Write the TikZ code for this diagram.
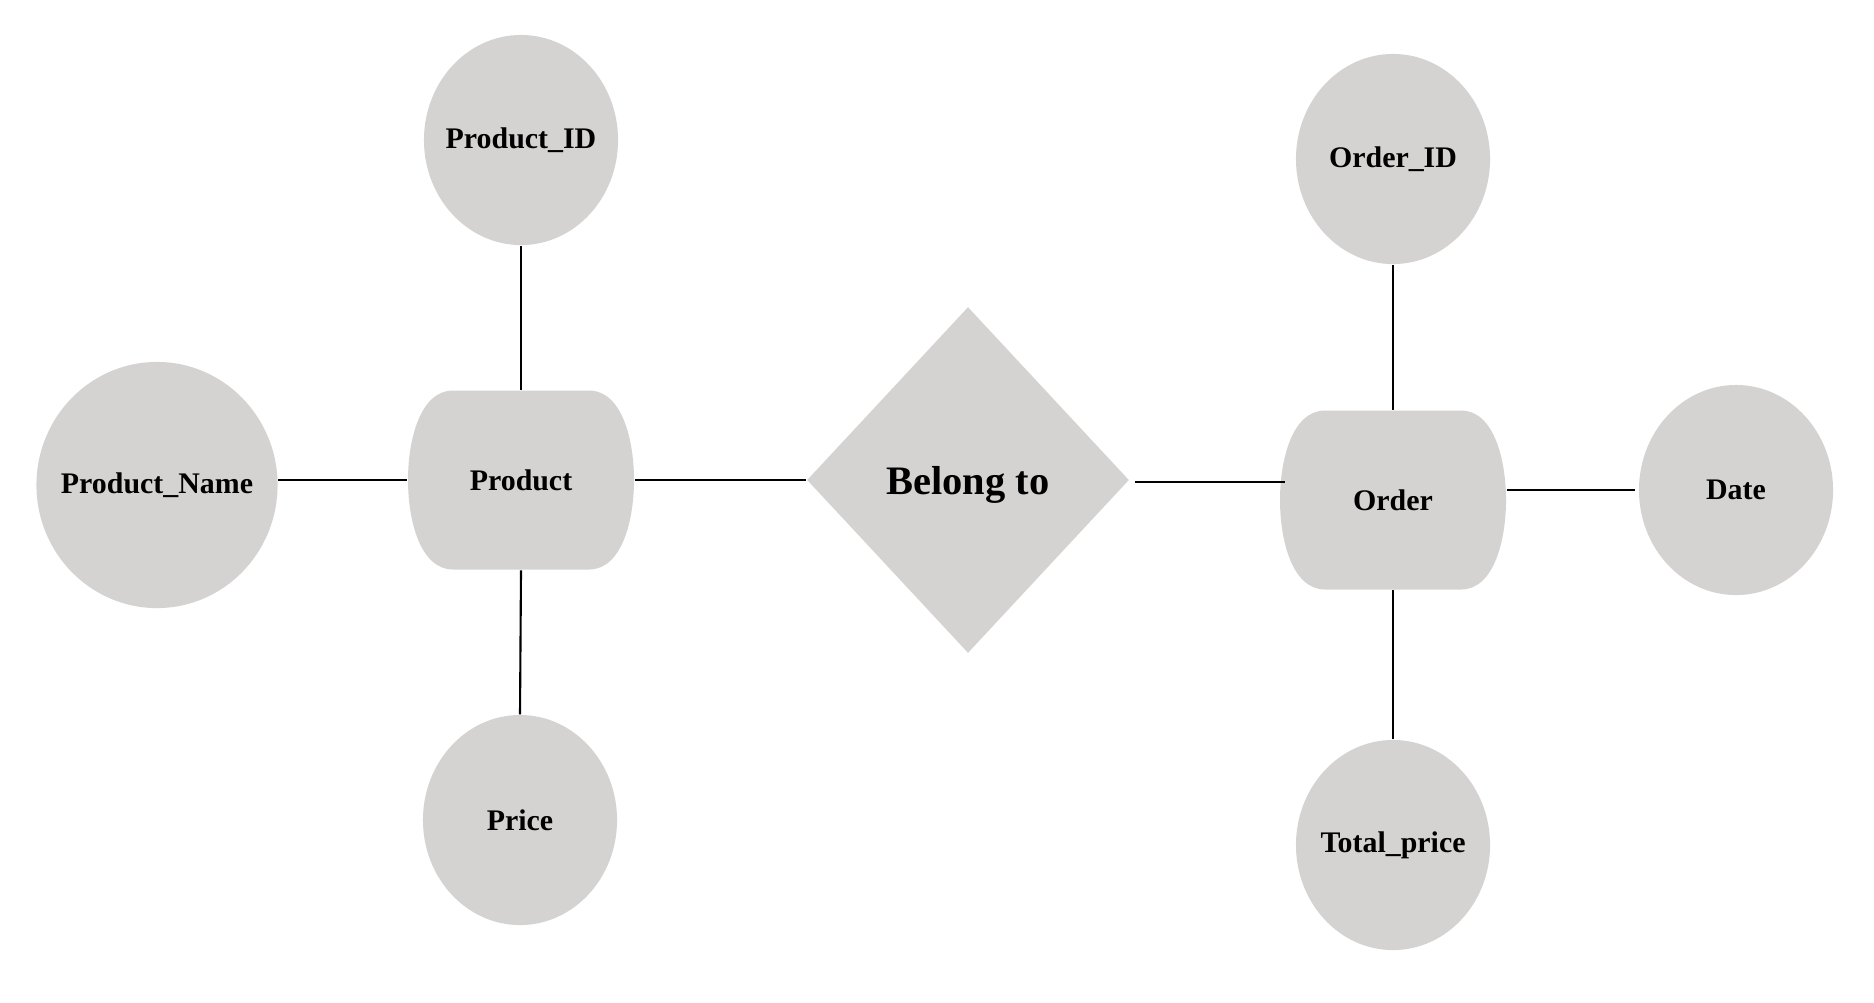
\documentclass[tikz,border=0pt]{standalone}
\usepackage{fontspec}
\setmainfont{Liberation Serif}
\usepackage{tikz}
\usetikzlibrary{positioning,shapes.geometric}
\definecolor{erfill}{RGB}{213,210,210}

\tikzset{
    pics/entbody/.style={
        code={
            \fill[erfill]
                (-68,-89.5) -- (68,-89.5)
                .. controls (101,-89.5) and (113,-40) .. (113,0)
                .. controls (113,40) and (101,89.5) .. (68,89.5)
                -- (-68,89.5)
                .. controls (-101,89.5) and (-113,40) .. (-113,0)
                .. controls (-113,-40) and (-101,-89.5) .. (-68,-89.5) -- cycle;
        }
    }
}

\begin{document}
\begin{tikzpicture}[
    x=0.01cm, y=-0.01cm,
    every node/.style={font=\fontsize{8.5}{10}\selectfont\bfseries},
    attr/.style={
        ellipse,
        fill=erfill,
        inner xsep=-1cm,
        inner ysep=0pt,
        minimum width=1.94cm,
        minimum height=2.1cm
    },
    entity/.style={
        rectangle,
        inner sep=0pt,
        minimum width=2.26cm,
        minimum height=1.79cm
    },
    relation/.style={
        diamond,
        fill=erfill,
        inner sep=0pt,
        text depth=0pt,
        minimum width=3.22cm,
        minimum height=3.46cm,
        font=\fontsize{11.5}{13}\selectfont\bfseries
    },
    link/.style={line width=0.6pt}
]
\useasboundingbox (0,0) rectangle (1874,1002);

% product side
\pic at (521,480) {entbody};
\node[entity] (prod) at (521,480) {Product};
\node[attr] (pid) at (521,140) {Product\_ID};
\node[attr, minimum width=2.41cm, minimum height=2.46cm] (pname) at (157,485) {Product\_Name};
\node[attr] (price) at (520,820) {Price};

% relationship
\node[relation] (belong) at (968,480) {Belong to};

% order side
\pic at (1393,500) {entbody};
\node[entity] (ord) at (1393,500) {Order};
\node[attr] (oid) at (1393,159) {Order\_ID};
\node[attr] (date) at (1736,490) {Date};
\node[attr] (total) at (1393,845) {Total\_price};

\draw[link] (prod.west -| pname.east) -- (prod.west);
\draw[link] (pid.south) -- (prod.north);
\draw[link] (prod.south) -- (price.north);
\draw[link] (prod.east) -- (belong.west);
\draw[link] ([xshift=1.5pt,yshift=-0.6pt]belong.east) -- ([xshift=1.5pt,yshift=-0.6pt]belong.east -| ord.west);
\draw[link] (oid.south) -- (ord.north);
\draw[link] (ord.east |- date.west) -- ([xshift=-1pt]date.west);
\draw[link] (ord.south) -- (total.north);

\end{tikzpicture}
\end{document}
